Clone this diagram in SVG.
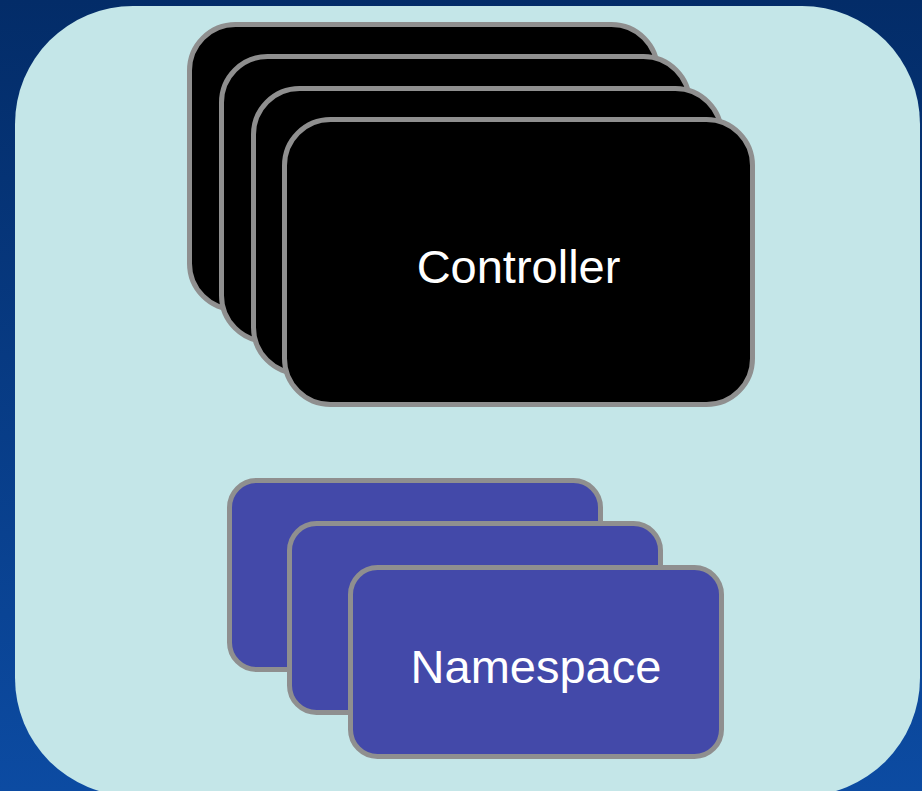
<svg xmlns="http://www.w3.org/2000/svg" width="922" height="791" viewBox="0 0 922 791">
<defs>
<linearGradient id="bg" x1="0" y1="0" x2="0" y2="1">
<stop offset="0" stop-color="#032c68"/>
<stop offset="1" stop-color="#0c4ba2"/>
</linearGradient>
<style>
.ctl{fill:#000000;stroke:#8f8f8f;stroke-width:5}
.ns{fill:#4349a9;stroke:#8f8f8f;stroke-width:5}
.lbl{fill:#ffffff;font-family:"Liberation Sans",Arial,sans-serif;font-size:47px;text-anchor:middle}
</style>
</defs>
<rect x="0" y="0" width="922" height="791" fill="url(#bg)"/>
<rect id="panel" x="15" y="6" width="905" height="790" rx="118" ry="118" fill="#c4e6e8"/>
<g id="controllers">
<g id="controller-1"><rect class="ctl" x="189.5" y="24.5" width="468" height="285" rx="46"/></g>
<g id="controller-2"><rect class="ctl" x="221.5" y="56.5" width="468" height="285" rx="46"/></g>
<g id="controller-3"><rect class="ctl" x="253.5" y="88.5" width="468" height="285" rx="46"/></g>
<g id="controller-4"><rect class="ctl" x="284.5" y="119.5" width="468" height="285" rx="46"/>
<text class="lbl" x="518.5" y="283">Controller</text></g>
</g>
<g id="namespaces">
<g id="namespace-1"><rect class="ns" x="229.5" y="480.5" width="371" height="189" rx="27"/></g>
<g id="namespace-2"><rect class="ns" x="289.5" y="523.5" width="371" height="189" rx="27"/></g>
<g id="namespace-3"><rect class="ns" x="350.5" y="567.5" width="371" height="189" rx="27"/>
<text class="lbl" x="536" y="683">Namespace</text></g>
</g>
<g id="connectors"/>
</svg>
